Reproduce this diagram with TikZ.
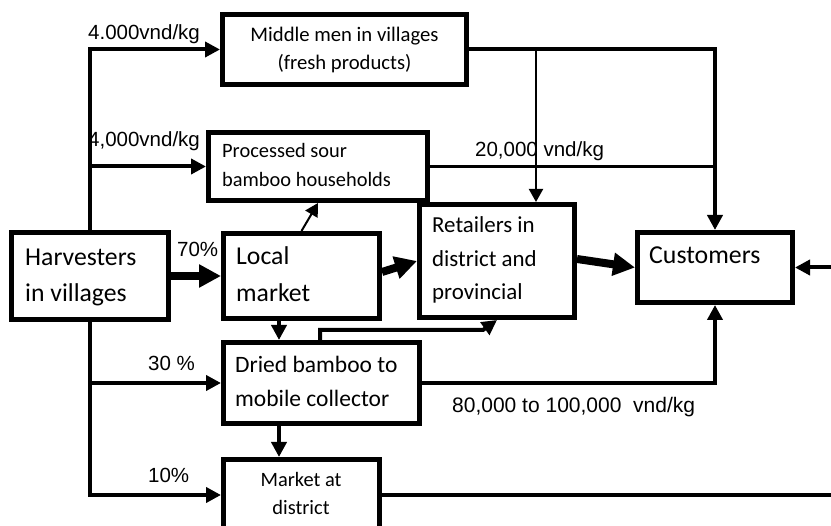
\documentclass[tikz,border=0pt]{standalone}
\usepackage{fontspec}
\setmainfont{Carlito}
\newfontfamily\arialf{Liberation Sans}
\usetikzlibrary{arrows.meta}
\begin{document}
\begin{tikzpicture}[x=1pt,y=-1pt,
 box/.style={draw, line width=5pt, inner sep=0pt},
 tx/.style={inner sep=0pt, anchor=base west, align=left},
 lbl/.style={inner sep=0pt, anchor=base west, font=\arialf\fontsize{20.5}{24}\selectfont},
 ln/.style={line width=4pt},
 arr/.style={line width=4pt, -{Triangle[length=15pt,width=15pt]}},
 tarr/.style={line width=2pt, -{Triangle[length=13pt,width=14pt]}},
 barr/.style={line width=8pt, -{Triangle[length=22pt,width=22pt]}}]
\useasboundingbox (0,0) rectangle (831,526);
\clip (0,0) rectangle (831,526);
% boxes
\node[box, minimum width=244pt, minimum height=70pt] (mm) at (344.5,49.5) {};
\node[box, minimum width=219pt, minimum height=68pt] (ps) at (318,166.5) {};
\node[box, minimum width=157pt, minimum height=87pt] (hv) at (90,276) {};
\node[box, minimum width=156pt, minimum height=85pt] (lm) at (301.5,276) {};
\node[box, minimum width=155pt, minimum height=113pt] (rt) at (497,261) {};
\node[box, minimum width=155pt, minimum height=70pt] (cu) at (715,267.5) {};
\node[box, minimum width=196pt, minimum height=81pt] (db) at (321.5,383) {};
\node[box, minimum width=156pt, minimum height=86pt] (mk) at (301.5,502.5) {};
% box texts (anchored at the baseline of their last line)
\node[tx, anchor=base, align=center, font=\fontsize{20.7}{28}\selectfont] (mmt) at (344.5,70) {Middle men in villages\\(fresh products)};
\node[tx, font=\fontsize{20.4}{29}\selectfont] (pst) at (222,187) {Processed sour\\bamboo households};
\node[tx, font=\fontsize{25.7}{36}\selectfont] (hvt) at (25,302) {Harvesters\\in villages};
\node[tx, font=\fontsize{25.7}{37}\selectfont] (lmt) at (236,302) {Local\\market};
\node[tx, font=\fontsize{22.9}{33.5}\selectfont] (rtt) at (432,300) {Retailers in\\district and\\provincial};
\node[tx, font=\fontsize{25.8}{30}\selectfont] (cut) at (649,264) {Customers};
\node[tx, font=\fontsize{23.5}{34}\selectfont] (dbt) at (235,407) {Dried bamboo to\\mobile collector};
\node[tx, anchor=base, align=center, font=\fontsize{20.4}{28}\selectfont] (mkt) at (301,515) {Market at\\district};
% labels
\node[lbl] (l1) at (88,40) {4.000vnd/kg};
\node[lbl] (l2) at (88,147) {4,000vnd/kg};
\node[lbl] (l3) at (475,157) {20,000 vnd/kg};
\node[lbl, font=\arialf\fontsize{21}{24}\selectfont] (l4) at (452,413) {80,000 to 100,000\ \ vnd/kg};
\node[lbl] (l5) at (177,257) {70\%};
\node[lbl] (l6) at (148,371) {30 \%};
\node[lbl] (l7) at (148,483) {10\%};
% helper coordinates
\coordinate (j495) at (0,495);
\coordinate (k1) at (483,330);
\coordinate (rtn) at ([xshift=39pt]rt.north);
\coordinate (re) at (831,267.5);
\coordinate (me) at (831,495);
% connectors
\draw[arr] (hv.north) |- (mm.west);
\draw[arr] (hv.north |- ps.west) -- (ps.west);
\draw[arr] (hv.south) |- (db.west);
\draw[arr] (hv.south) |- (mk.west |- j495);
\draw[barr] (hv.east) -- (lm.west);
\draw[tarr] (lm.north) -- (ps.south);
\draw[barr] ([yshift=4pt]lm.east) -- (rt.west);
\draw[barr] ([yshift=2pt]rt.east) -- (cu.west);
\draw[arr] ([xshift=-22.5pt]lm.south) -- ([xshift=-42.5pt]db.north);
\draw[arr] ([xshift=-42.5pt]db.south) -- ([xshift=-22.5pt]mk.north);
\draw[arr] ([xshift=-1.5pt]db.north) |- (k1) -- (rt.south);
\draw[arr] (db.east) -| (cu.south);
\draw[arr] (mm.east) -| (cu.north);
\draw[tarr] (rtn |- mm.east) -- (rtn);
\draw[ln, line width=3pt] (ps.east) -- (ps.east -| cu.north);
\draw[arr] (re) -- (cu.east);
\draw[ln] (mk.east |- j495) -- (me);
\end{tikzpicture}
\end{document}
